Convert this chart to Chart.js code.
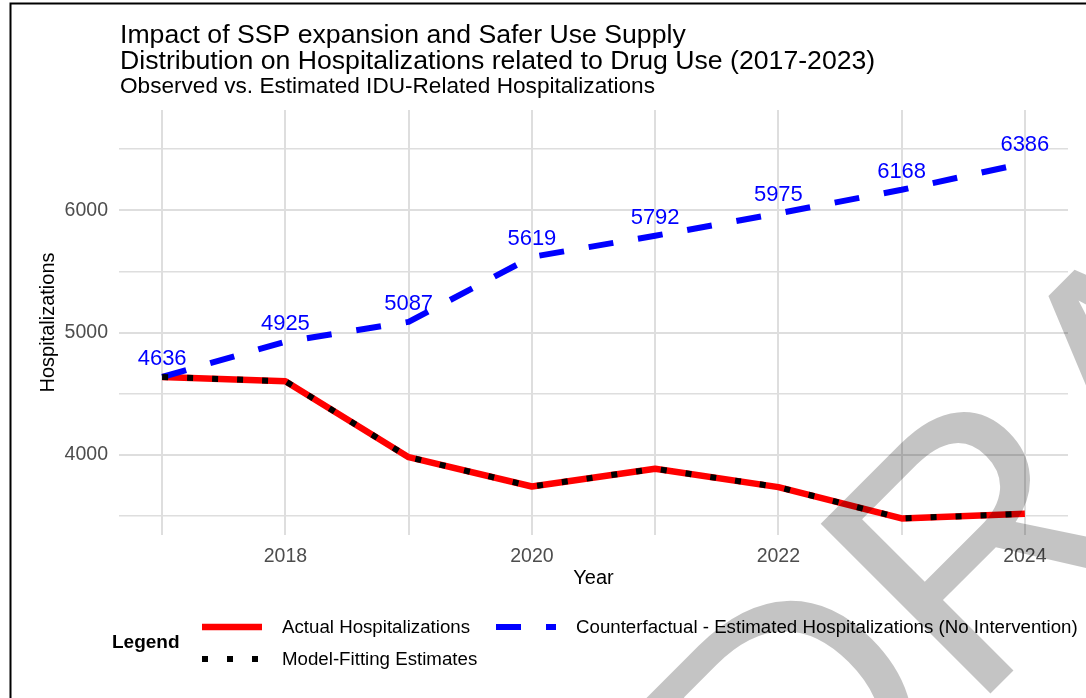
<!DOCTYPE html>
<html>
<head>
<meta charset="utf-8">
<script src="https://cdn.jsdelivr.net/npm/chart.js@4.4.1/dist/chart.umd.min.js"></script>
<style>
  html, body { margin: 0; padding: 0; background: #fff; }
  canvas { display: block; }
</style>
</head>
<body>
<canvas id="chart" width="1086" height="698"></canvas>
<script>
// data
const years = [2017, 2018, 2019, 2020, 2021, 2022, 2023, 2024];
const actualHosp = [4636, 4601, 3980, 3740, 3885, 3735, 3479, 3516];
const modelFit = [4636, 4601, 3980, 3740, 3885, 3735, 3479, 3516];
const counterfactual = [4636, 4925, 5087, 5619, 5792, 5975, 6168, 6386];
const xLabelYears = [2018, 2020, 2022, 2024];
const yLabelValues = [4000, 5000, 6000];

const titleLines = ["Impact of SSP expansion and Safer Use Supply",
                    "Distribution on Hospitalizations related to Drug Use (2017-2023)"];
const subtitle = "Observed vs. Estimated IDU-Related Hospitalizations";
const FONT = '"Liberation Sans", Arial, sans-serif';

function pts(vals) {
  return years.map(function (y, i) { return {x: y, y: vals[i]}; });
}

// where each legend key sits (row layout like the ggplot legend)
const legendSlots = [{x: 202, y: 627}, {x: 496, y: 627}, {x: 202, y: 659}];

const decorations = {
  id: 'decorations',
  afterDatasetsDraw: function (chart) {
    const ctx = chart.ctx;
    const meta = chart.getDatasetMeta(1);
    ctx.save();
    ctx.font = '22px ' + FONT;
    ctx.fillStyle = '#0000ff';
    ctx.textAlign = 'center';
    ctx.textBaseline = 'middle';
    meta.data.forEach(function (p, i) {
      ctx.fillText(String(counterfactual[i]), p.x, p.y - 18);
    });
    ctx.restore();
  },
  afterDraw: function (chart) {
    const ctx = chart.ctx;
    const area = chart.chartArea;
    ctx.save();

    // titles
    ctx.fillStyle = '#000';
    ctx.textAlign = 'left';
    ctx.textBaseline = 'alphabetic';
    ctx.font = '26.65px ' + FONT;
    ctx.fillText(titleLines[0], 120, 42.5);
    ctx.fillText(titleLines[1], 120, 68.5);
    ctx.font = '22.6px ' + FONT;
    ctx.fillText(subtitle, 120, 92.5);

    // axis titles
    ctx.font = '20px ' + FONT;
    ctx.textAlign = 'center';
    ctx.textBaseline = 'middle';
    ctx.fillText('Year', (area.left + area.right) / 2, 578);
    ctx.save();
    ctx.translate(48, (area.top + area.bottom) / 2);
    ctx.rotate(-Math.PI / 2);
    ctx.fillText('Hospitalizations', 0, 0);
    ctx.restore();

    // legend
    ctx.textAlign = 'left';
    ctx.font = 'bold 19px ' + FONT;
    ctx.fillText('Legend', 112, 643);
    ctx.font = '18.7px ' + FONT;
    chart.data.datasets.forEach(function (ds, i) {
      const s = legendSlots[i];
      ctx.save();
      ctx.strokeStyle = ds.borderColor;
      ctx.lineWidth = ds.borderWidth;
      ctx.setLineDash(ds.borderDash || []);
      ctx.lineCap = 'butt';
      ctx.beginPath();
      ctx.moveTo(s.x, s.y);
      ctx.lineTo(s.x + 60, s.y);
      ctx.stroke();
      ctx.restore();
      ctx.fillText(ds.label, s.x + 80, s.y + 1);
    });

    // frame
    ctx.strokeStyle = '#000';
    ctx.lineWidth = 2;
    ctx.strokeRect(10.5, 3.5, 1200, 800);

    // DRAFT watermark
    ctx.translate(792, 892);
    ctx.rotate(-Math.PI / 4);
    ctx.font = '349px ' + FONT;
    ctx.fillStyle = 'rgba(0,0,0,0.23)';
    ctx.textAlign = 'left';
    ctx.textBaseline = 'alphabetic';
    ctx.fillText('DRAFT', 0, 0);
    ctx.restore();
  }
};

new Chart(document.getElementById('chart'), {
  type: 'line',
  data: {
    datasets: [
      {label: 'Actual Hospitalizations', data: pts(actualHosp),
       borderColor: '#ff0000', borderWidth: 6.5, order: 2},
      {label: 'Counterfactual - Estimated Hospitalizations (No Intervention)', data: pts(counterfactual),
       borderColor: '#0000ff', borderWidth: 6, borderDash: [25, 25], order: 1},
      {label: 'Model-Fitting Estimates', data: pts(modelFit),
       borderColor: '#000000', borderWidth: 6, borderDash: [6, 19], order: 0}
    ]
  },
  options: {
    responsive: false,
    animation: false,
    devicePixelRatio: 1,
    elements: {
      point: {radius: 0},
      line: {tension: 0, fill: false, borderJoinStyle: 'round', borderCapStyle: 'butt'}
    },
    layout: {padding: {top: 110, right: 18, left: 0, bottom: 0}},
    plugins: {legend: {display: false}, title: {display: false}, tooltip: {enabled: false}},
    scales: {
      x: {
        type: 'linear', min: 2016.65, max: 2024.35,
        afterBuildTicks: function (s) {
          s.ticks = years.map(function (y) { return {value: y}; });
        },
        afterFit: function (s) { s.height = 163; },
        border: {display: false},
        grid: {color: '#dedede', lineWidth: 2, drawTicks: false},
        ticks: {
          padding: 10, color: '#4d4d4d', font: {family: FONT, size: 19.5},
          maxRotation: 0, autoSkip: false,
          callback: function (v) { return xLabelYears.indexOf(v) >= 0 ? String(v) : ''; }
        }
      },
      y: {
        type: 'linear', min: 3343, max: 6821,
        afterBuildTicks: function (s) {
          s.ticks = [3500, 4000, 4500, 5000, 5500, 6000, 6500].map(function (v) { return {value: v}; });
        },
        afterFit: function (s) { s.width = 119; },
        border: {display: false},
        grid: {
          color: '#dedede', drawTicks: false,
          lineWidth: function (c) { return yLabelValues.indexOf(c.tick.value) >= 0 ? 2 : 1.5; }
        },
        ticks: {
          padding: 11, color: '#4d4d4d', font: {family: FONT, size: 19.5},
          callback: function (v) { return yLabelValues.indexOf(v) >= 0 ? String(v) : ''; }
        }
      }
    }
  },
  plugins: [decorations]
});
</script>
</body>
</html>
